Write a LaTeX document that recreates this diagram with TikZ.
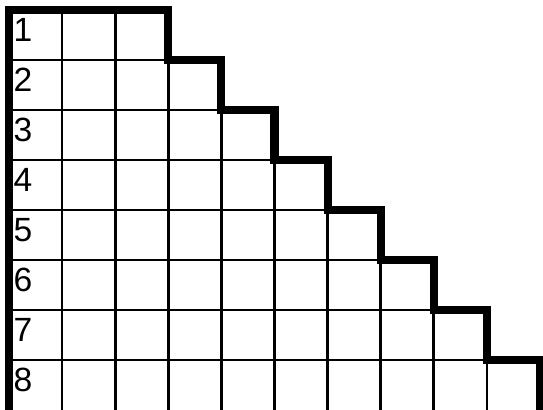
\documentclass[tikz,border=0pt]{standalone}
\usepackage{fontspec}
\setmainfont{Liberation Sans}

\begin{document}
\begin{tikzpicture}[
    x=1cm, y=0.9416cm,
    gridline/.style={line width=1.4pt},
    stair/.style={line width=4.3pt, line join=miter},
    rowlabel/.style={
        anchor=west,
        inner sep=0pt,
        font=\fontsize{18}{18}\selectfont
    }
]
\useasboundingbox (-0.17,0.2) rectangle (10.057,-8.0);

% Inner grid
\foreach \j in {1,...,9} {
    \pgfmathtruncatemacro{\top}{max(1,\j-1)-1}
    \draw[gridline] (\j,-\top) -- (\j,-8);
}
\foreach \k in {1,...,7} {
    \pgfmathtruncatemacro{\wd}{\k+2}
    \draw[gridline] (0,-\k) -- (\wd,-\k);
}

% Staircase outline
\draw[stair] (0,-8) -- (0,0) -- (3,0) -- (3,-1) -- (4,-1) -- (4,-2)
    -- (5,-2) -- (5,-3) -- (6,-3) -- (6,-4) -- (7,-4) -- (7,-5)
    -- (8,-5) -- (8,-6) -- (9,-6) -- (9,-7) -- (10,-7) -- (10,-8);

% Row numbers
\foreach \r in {1,...,8}
    \node[rowlabel] (row\r) at (0.08,-\r+0.6) {\r};

\end{tikzpicture}
\end{document}
